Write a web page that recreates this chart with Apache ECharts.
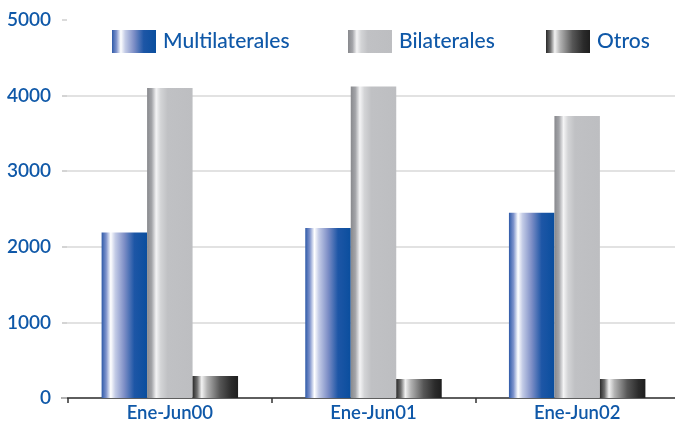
<!DOCTYPE html>
<html><head><meta charset="utf-8">
<script src="https://cdn.jsdelivr.net/npm/echarts@6/dist/echarts.min.js"></script>
<style>html,body{margin:0;padding:0;background:#fff}#c{width:675px;height:421px}</style>
</head><body><div id="c"></div>
<script>
const categories = ['Ene-Jun00', 'Ene-Jun01', 'Ene-Jun02'];
const multilaterales = [2190, 2250, 2450];
const bilaterales = [4100, 4120, 3730];
const otros = [290, 250, 250];
const yTicks = [0, 1000, 2000, 3000, 4000, 5000];

const blue = '#0f58a8';
const font = 'Lato';
function grad(stops) {
  return new echarts.graphic.LinearGradient(0, 0, 1, 0, stops.map(s => ({offset: s[0], color: s[1]})));
}
const gMulti = grad([[0,'#2f5aa8'],[0.1,'#7e93cc'],[0.2,'#ffffff'],[0.3,'#c3cbe6'],[0.5,'#7d8ec6'],[0.72,'#1d56a6'],[1,'#0a4e9e']]);
const gBil = grad([[0,'#88898d'],[0.1,'#a3a4a8'],[0.2,'#f4f4f5'],[0.3,'#d3d4d6'],[0.45,'#c0c1c4'],[1,'#bdbec1']]);
const gOtros = grad([[0,'#2a2a2a'],[0.1,'#6e6e6e'],[0.2,'#f2f2f2'],[0.32,'#b3b3b3'],[0.6,'#575757'],[0.85,'#2b2b2b'],[1,'#1e1e1e']]);

const chart = echarts.init(document.getElementById('c'), null, {renderer: 'canvas'});
const legendBase = {
  top: 25, padding: 5, itemWidth: 44, itemHeight: 23, itemGap: 0,
  icon: 'rect',
  textStyle: {color: blue, fontFamily: font, fontSize: 21, fontWeight: 500, padding: [0,0,0,2]},
  selectedMode: false
};
chart.setOption({
  animation: false,
  legend: [
    Object.assign({}, legendBase, {left: 107, data: ['Multilaterales']}),
    Object.assign({}, legendBase, {left: 343, data: ['Bilaterales']}),
    Object.assign({}, legendBase, {left: 541, data: ['Otros']})
  ],
  grid: [
    {left: 62, right: 0, top: 20, bottom: 23, outerBoundsMode: 'none', containLabel: false},
    {left: 68, right: -4, top: 20, bottom: 23, outerBoundsMode: 'none', containLabel: false}
  ],
  xAxis: [
    {gridIndex: 0, type: 'category', data: categories, axisLine: {lineStyle: {color: '#333', width: 1.5}},
     axisTick: {show: false}, axisLabel: {show: false}},
    {gridIndex: 1, type: 'category', data: categories, axisLine: {show: false},
     axisTick: {show: true, length: 5, inside: false, lineStyle: {color: '#333', width: 1.5}},
     axisLabel: {color: blue, fontFamily: font, fontSize: 18.5, fontWeight: 600, margin: 6}}
  ],
  yAxis: [
    {gridIndex: 0, type: 'value', min: 0, max: 5000, interval: 1000,
     axisLine: {show: false},
     axisTick: {show: true, inside: true, length: 5, lineStyle: {color: '#cfcfcf', width: 1.5}},
     axisLabel: {color: blue, fontFamily: font, fontSize: 19, fontWeight: 600, margin: 11,
       formatter: v => yTicks.includes(v) ? String(v) : ''},
     splitLine: {show: true, showMaxLine: false, lineStyle: {color: '#d9d9d9', width: 1.5}}},
    {gridIndex: 1, type: 'value', min: 0, max: 5000, interval: 1000, show: false, splitLine: {show: false}}
  ],
  series: [
    {name: 'Multilaterales', type: 'bar', xAxisIndex: 1, yAxisIndex: 1, data: multilaterales,
     itemStyle: {color: gMulti}, barGap: '0%', barCategoryGap: '33%'},
    {name: 'Bilaterales', type: 'bar', xAxisIndex: 1, yAxisIndex: 1, data: bilaterales,
     itemStyle: {color: gBil}, barGap: '0%', barCategoryGap: '33%'},
    {name: 'Otros', type: 'bar', xAxisIndex: 1, yAxisIndex: 1, data: otros,
     itemStyle: {color: gOtros}, barGap: '0%', barCategoryGap: '33%'}
  ]
});
</script></body></html>
